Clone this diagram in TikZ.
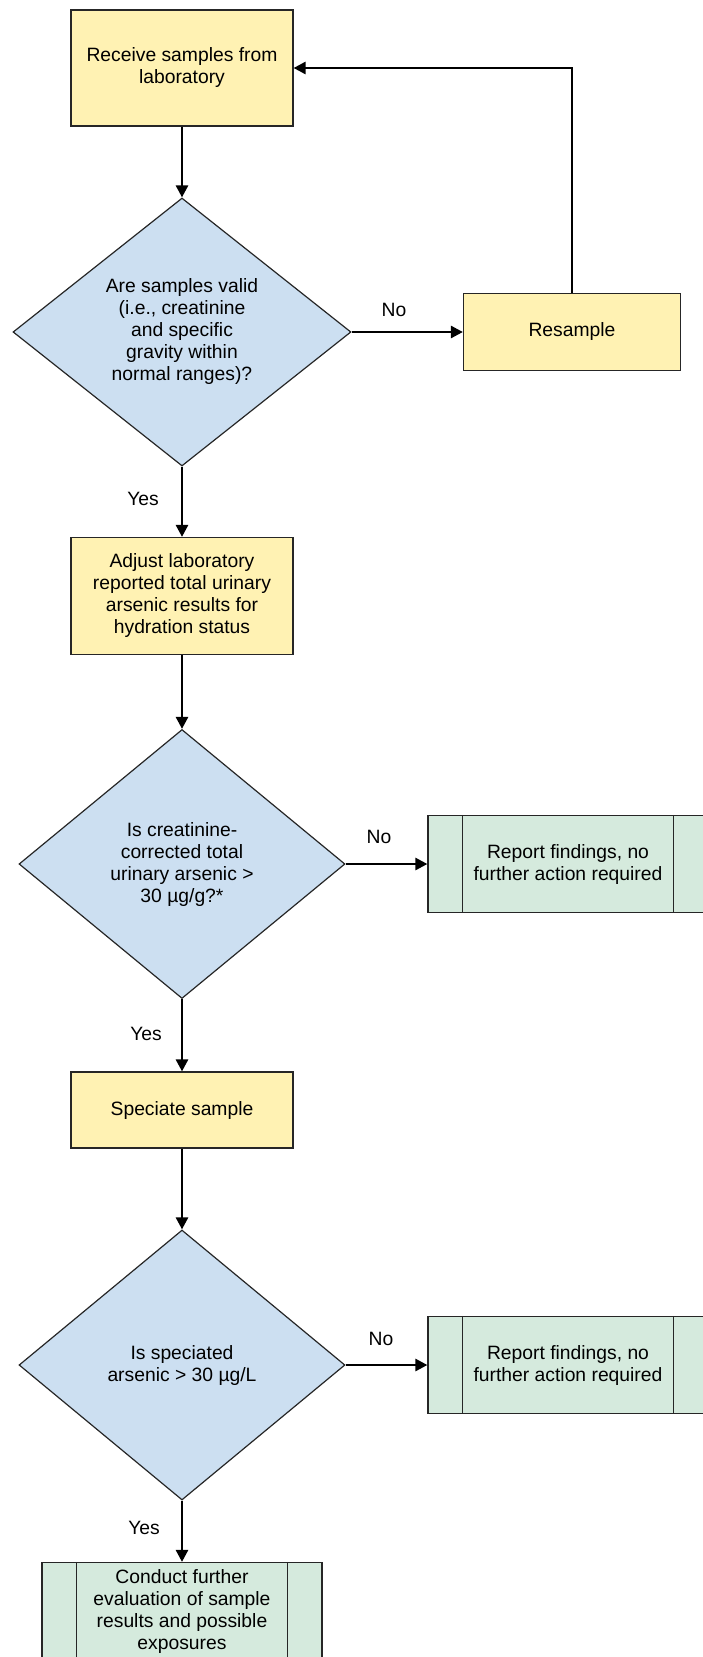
\documentclass[tikz,border=0pt]{standalone}
\usepackage{fontspec}
\setmainfont{Liberation Sans}
\usetikzlibrary{arrows.meta, shapes.geometric}

\definecolor{stepyellow}{RGB}{255,242,179}
\definecolor{askblue}{RGB}{204,223,241}
\definecolor{endgreen}{RGB}{213,234,221}

\begin{document}
\begin{tikzpicture}[
    x=1pt, y=-1pt,
    every node/.style={font=\fontsize{19.3}{22}\selectfont},
    stepbox/.style={draw=black!85, line width=1.2pt, fill=stepyellow, align=center, inner sep=0pt},
    decide/.style={diamond, draw=black!85, line width=1.2pt, fill=askblue, align=center, inner sep=0pt, minimum width=326pt},
    endbox/.style={draw=black!85, line width=1.2pt, fill=endgreen, align=center, inner sep=0pt, minimum width=280pt, minimum height=97pt},
    flow/.style={-{Triangle[length=12pt, width=12pt]}, line width=2.6pt},
]
\useasboundingbox (0,0) rectangle (703,1657);
\clip (0,0) rectangle (703,1657);

\node[stepbox, minimum width=222pt, minimum height=116pt] (recv) at (182,68) {Receive samples from\\laboratory};
\node[decide, minimum width=338pt, minimum height=268pt] (valid) at (182,332) {Are samples valid\\(i.e., creatinine\\and specific\\gravity within\\normal ranges)?};
\node[stepbox, minimum width=217pt, minimum height=77pt] (resample) at (572,332) {Resample};
\node[stepbox, minimum width=222pt, minimum height=117pt] (adjust) at (182,596) {Adjust laboratory\\reported total urinary\\arsenic results for\\hydration status};
\node[decide, minimum height=269pt] (corrected) at (182,864) {Is creatinine-\\corrected total\\urinary arsenic >\\30 µg/g?*};
\node[endbox] (report1) at (568,864) {Report findings, no\\further action required};
\node[stepbox, minimum width=222pt, minimum height=76pt] (speciate) at (182,1110) {Speciate sample};
\node[decide, minimum height=270pt] (speciated) at (182,1365) {Is speciated\\arsenic > 30 µg/L};
\node[endbox] (report2) at (568,1365) {Report findings, no\\further action required};
\node[endbox] (further) at (182,1611) {Conduct further\\evaluation of sample\\results and possible\\exposures};

\foreach \n in {report1, report2, further} {
  \draw[black!85, line width=1.2pt] ([xshift=35pt]\n.north west) -- ([xshift=35pt]\n.south west)
      ([xshift=-35pt]\n.north east) -- ([xshift=-35pt]\n.south east);
}

\draw[flow] (recv) -- (valid);
\draw[flow] (valid) -- (resample);
\draw[flow] (resample.north) |- (recv.east);
\draw[flow] (valid) -- (adjust);
\draw[flow] (adjust) -- (corrected);
\draw[flow] (corrected) -- (report1);
\draw[flow] (corrected) -- (speciate);
\draw[flow] (speciate) -- (speciated);
\draw[flow] (speciated) -- (report2);
\draw[flow] (speciated) -- (further);

\node (no1) at (394,310) {No};
\node (no2) at (379,837) {No};
\node (no3) at (381,1339) {No};
\node (yes1) at (143,499) {Yes};
\node (yes2) at (146,1034) {Yes};
\node (yes3) at (144,1528) {Yes};
\end{tikzpicture}
\end{document}
